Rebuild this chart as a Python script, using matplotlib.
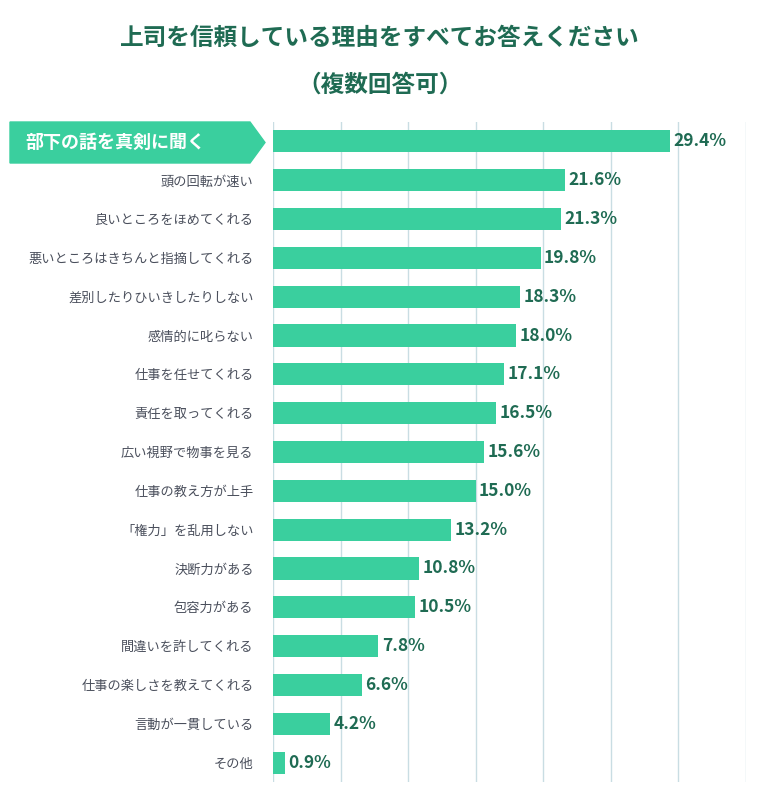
import matplotlib
matplotlib.use('Agg')
import matplotlib.pyplot as plt
from matplotlib.patches import Polygon

plt.rcParams['font.family'] = 'Noto Sans CJK JP'

LABELS = ['部下の話を真剣に聞く', '頭の回転が速い', '良いところをほめてくれる',
          '悪いところはきちんと指摘してくれる', '差別したりひいきしたりしない',
          '感情的に叱らない', '仕事を任せてくれる', '責任を取ってくれる',
          '広い視野で物事を見る', '仕事の教え方が上手', '「権力」を乱用しない',
          '決断力がある', '包容力がある', '間違いを許してくれる',
          '仕事の楽しさを教えてくれる', '言動が一貫している', 'その他']
VALUES = [29.4, 21.6, 21.3, 19.8, 18.3, 18.0, 17.1, 16.5, 15.6, 15.0,
          13.2, 10.8, 10.5, 7.8, 6.6, 4.2, 0.9]

BAR = '#3acf9e'
DARK = '#1f6b53'

fig = plt.figure(figsize=(7.6, 7.97), dpi=100)
ax = fig.add_axes([273/760, 1-782/797, (746-273)/760, (782-122)/797])

y = list(range(len(VALUES)))
ax.barh(y, VALUES, height=0.57, color=BAR, zorder=2)
for yi, v in zip(y, VALUES):
    ax.text(v + 0.25, yi, f'{v:.1f}%', va='center', ha='left',
            fontsize=12.5, fontweight='bold', color=DARK, zorder=3)

ax.set_xlim(0, 35)
ax.set_ylim(len(VALUES) - 0.5, -0.5)
ax.set_xticks(range(0, 36, 5))
ax.xaxis.grid(True, color='#c9dde3', lw=1, zorder=0)
ax.tick_params(length=0, labelbottom=False)
for s in ax.spines.values():
    s.set_visible(False)
ax.set_yticks(y)
ax.set_yticklabels([''] + LABELS[1:], fontsize=9.5, color='#4a4f5c')
ax.tick_params(axis='y', pad=14)

# highlighted first label as arrow-shaped tag
fx = lambda px: px / 760
fy = lambda py: 1 - py / 797
tag = Polygon([(fx(10), fy(122)), (fx(250), fy(122)), (fx(265), fy(142.5)),
               (fx(250), fy(163)), (fx(10), fy(163))], closed=True,
              transform=fig.transFigure, color=BAR, zorder=5)
fig.patches.append(tag)
fig.text(fx(25), fy(142.5), LABELS[0], ha='left', va='center', fontsize=13,
         fontweight='bold', color='white', zorder=6)

fig.text(0.5, fy(38), '上司を信頼している理由をすべてお答えください', ha='center',
         va='center', fontsize=17, fontweight='bold', color=DARK)
fig.text(0.5, fy(85), '（複数回答可）', ha='center', va='center', fontsize=17,
         fontweight='bold', color=DARK)

fig.savefig('out.png', dpi=100, facecolor='white')
